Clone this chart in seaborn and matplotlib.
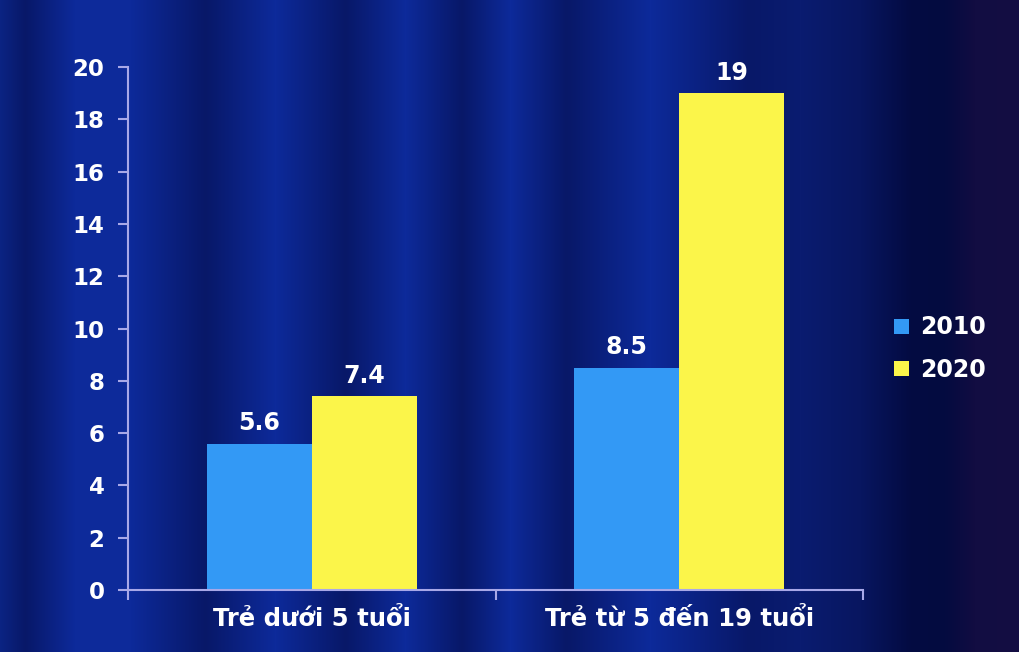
import numpy as np
import pandas as pd
import seaborn as sns
import matplotlib.pyplot as plt
from matplotlib.patches import Patch

# Chart data
categories = ["Trẻ dưới 5 tuổi", "Trẻ từ 5 đến 19 tuổi"]
years = ["2010", "2020"]
values_2010 = [5.6, 8.5]
values_2020 = [7.4, 19]
y_ticks = [0, 2, 4, 6, 8, 10, 12, 14, 16, 18, 20]

colors = {"2010": "#3399f5", "2020": "#fbf54a"}
axis_color = "#a8a8e8"

df = pd.DataFrame({
    "category": categories * 2,
    "year": [years[0]] * len(categories) + [years[1]] * len(categories),
    "value": values_2010 + values_2020,
})

sns.set_theme(style="white")
plt.rcParams['font.family'] = ['DejaVu Sans']

fig = plt.figure(figsize=(10.2, 6.52), dpi=100)

# Striped blue background (decoration)
bg = fig.add_axes([0, 0, 1, 1], zorder=0)
xs = np.arange(1020)
stops = [0, 25, 75, 130, 205, 275, 345, 405, 462, 510, 566, 650, 748, 800, 860, 910, 945, 975, 1019]
light = np.array([0x0d, 0x2a, 0x9a])
dark = np.array([0x08, 0x18, 0x68])
cols = np.array([light * 0.85, dark, light, light, dark, light, dark, light, dark, light, dark, light, dark,
                 np.array([0x0a, 0x1c, 0x70]), np.array([0x08, 0x16, 0x60]),
                 np.array([0x03, 0x0b, 0x42]), np.array([0x04, 0x0b, 0x40]),
                 np.array([0x12, 0x0d, 0x42]), np.array([0x14, 0x0e, 0x42])])
rgb = np.stack([np.interp(xs, stops, cols[:, c]) for c in range(3)], axis=-1) / 255.0
bg.imshow(rgb[np.newaxis, :, :], aspect="auto", extent=[0, 1, 0, 1])
bg.set_axis_off()

ax = fig.add_axes([0.1255, 0.0951, 0.7206, 0.8021], zorder=1)
ax.patch.set_alpha(0)

sns.barplot(data=df, x="category", y="value", hue="year", palette=colors,
            width=0.572, saturation=1, linewidth=0, ax=ax, legend=False)

for container in ax.containers:
    ax.bar_label(container, fmt="%g", padding=6, color="white",
                 fontsize=17, fontweight="bold")

ax.set_ylim(0, 20)
ax.set_yticks(y_ticks)
ax.set_xlim(-0.5, 1.5)
ax.set_xlabel("")
ax.set_ylabel("")

for side in ["top", "right"]:
    ax.spines[side].set_visible(False)
for side in ["left", "bottom"]:
    ax.spines[side].set_color(axis_color)
    ax.spines[side].set_linewidth(1.5)

ax.tick_params(axis="y", colors="white", labelsize=16.5, length=7, width=1.5,
               color=axis_color, direction="out", pad=10, left=True)
ax.tick_params(axis="x", colors="white", labelsize=17.5, length=0, pad=12)
for lbl in ax.get_yticklabels() + ax.get_xticklabels():
    lbl.set_fontweight("bold")

# category boundary tick marks on the x axis
ax.set_xticks([-0.5, 0.5, 1.5], minor=True)
ax.tick_params(axis="x", which="minor", length=7, width=1.5, color=axis_color,
               direction="out", bottom=True)

handles = [Patch(facecolor=colors[y], edgecolor="none", label=y) for y in years]
leg = fig.legend(handles=handles, loc="center left", bbox_to_anchor=(0.856, 0.465),
                 frameon=False, handlelength=0.6, handleheight=0.6, handletextpad=0.5,
                 labelspacing=0.8, prop={"size": 17, "weight": "bold"})
for t in leg.get_texts():
    t.set_color("white")

fig.savefig("out.png", dpi=100)
